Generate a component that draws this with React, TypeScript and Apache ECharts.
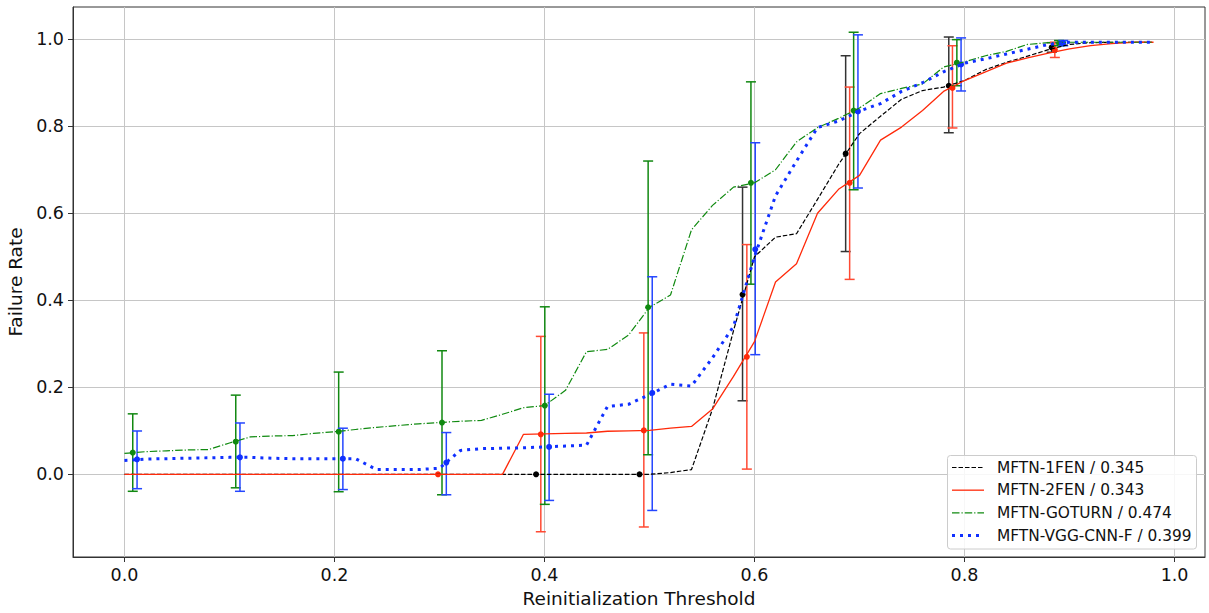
import React, { useEffect, useRef } from 'react';
import * as echarts from 'echarts';

// Thresholds at which the failure rate curves were sampled
const thresholds = [
  0.0, 0.02, 0.04, 0.06, 0.08, 0.1, 0.12, 0.14, 0.16, 0.18,
  0.2, 0.22, 0.24, 0.26, 0.28, 0.3, 0.32, 0.34, 0.36, 0.38,
  0.4, 0.42, 0.44, 0.46, 0.48, 0.5, 0.52, 0.54, 0.56, 0.58,
  0.6, 0.62, 0.64, 0.66, 0.68, 0.7, 0.72, 0.74, 0.76, 0.78,
  0.8, 0.82, 0.84, 0.86, 0.88, 0.9, 0.92, 0.94, 0.96, 0.98,
];

const seriesNames = [
  'MFTN-1FEN / 0.345',
  'MFTN-2FEN / 0.343',
  'MFTN-GOTURN / 0.474',
  'MFTN-VGG-CNN-F / 0.399',
];

// Curves
const rate1FEN = [
  0, 0, 0, 0, 0, 0, 0, 0, 0, 0,
  0, 0, 0, 0, 0, 0, 0, 0, 0, 0,
  0, 0, 0, 0, 0, 0, 0.004, 0.011, 0.15, 0.33,
  0.5, 0.545, 0.553, 0.632, 0.712, 0.783, 0.823, 0.862, 0.882, 0.89,
  0.905, 0.93, 0.947, 0.961, 0.976, 0.988, 0.992, 0.993, 0.993, 0.993,
];
const rate2FEN = [
  0, 0, 0, 0, 0, 0, 0, 0, 0, 0,
  0, 0, 0, 0, 0, 0, 0, 0, 0, 0.092,
  0.093, 0.094, 0.095, 0.099, 0.1, 0.101, 0.106, 0.11, 0.15, 0.225,
  0.305, 0.442, 0.484, 0.6, 0.655, 0.687, 0.768, 0.798, 0.836, 0.88,
  0.905, 0.925, 0.945, 0.957, 0.968, 0.978, 0.985, 0.99, 0.993, 0.993,
];
const rateGOTURN = [
  0.048, 0.052, 0.054, 0.056, 0.057, 0.072, 0.086, 0.088, 0.089, 0.094,
  0.098, 0.103, 0.108, 0.112, 0.116, 0.119, 0.122, 0.124, 0.138, 0.153,
  0.158, 0.193, 0.282, 0.287, 0.32, 0.384, 0.412, 0.562, 0.618, 0.66,
  0.67, 0.7, 0.764, 0.797, 0.818, 0.842, 0.875, 0.887, 0.897, 0.936,
  0.948, 0.962, 0.972, 0.988, 0.992, 0.993, 0.993, 0.993, 0.993, 0.993,
];
const rateVGG = [
  0.032, 0.035, 0.036, 0.037, 0.038, 0.039, 0.039, 0.037, 0.036, 0.036,
  0.036, 0.036, 0.011, 0.011, 0.011, 0.014, 0.055, 0.059, 0.06, 0.061,
  0.063, 0.065, 0.067, 0.156, 0.161, 0.183, 0.207, 0.203, 0.268, 0.34,
  0.5, 0.64, 0.72, 0.797, 0.812, 0.835, 0.852, 0.88, 0.9, 0.925,
  0.945, 0.955, 0.966, 0.977, 0.988, 0.993, 0.993, 0.993, 0.993, 0.993,
];

// Error bars: position, mean, lower, upper
const eb1FEN_x = [0.392, 0.4905, 0.5886, 0.6868, 0.785, 0.883];
const eb1FEN_y = [0, 0, 0.413, 0.737, 0.893, 0.981];
const eb1FEN_lo = [0, 0, 0.169, 0.512, 0.785, 0.97];
const eb1FEN_hi = [0, 0, 0.66, 0.962, 1.005, 0.992];

const eb2FEN_x = [0.2986, 0.3965, 0.4946, 0.5927, 0.6906, 0.7885, 0.886];
const eb2FEN_y = [0, 0.092, 0.101, 0.27, 0.67, 0.888, 0.976];
const eb2FEN_lo = [0, -0.132, -0.121, 0.012, 0.448, 0.796, 0.958];
const eb2FEN_hi = [0, 0.317, 0.325, 0.528, 0.89, 0.985, 0.993];

const ebGOT_x = [0.0079, 0.106, 0.204, 0.3024, 0.4003, 0.4987, 0.5966, 0.6944, 0.7927, 0.89];
const ebGOT_y = [0.05, 0.075, 0.098, 0.119, 0.158, 0.384, 0.67, 0.836, 0.946, 0.99];
const ebGOT_lo = [-0.039, -0.031, -0.04, -0.047, -0.069, 0.045, 0.437, 0.654, 0.893, 0.985];
const ebGOT_hi = [0.139, 0.182, 0.235, 0.284, 0.385, 0.72, 0.902, 1.016, 0.999, 0.997];

const ebVGG_x = [0.012, 0.11, 0.208, 0.3065, 0.4044, 0.5026, 0.6007, 0.6985, 0.7967, 0.894];
const ebVGG_y = [0.0345, 0.039, 0.036, 0.027, 0.063, 0.187, 0.517, 0.834, 0.942, 0.991];
const ebVGG_lo = [-0.033, -0.039, -0.035, -0.047, -0.06, -0.083, 0.275, 0.658, 0.881, 0.985];
const ebVGG_hi = [0.0996, 0.118, 0.106, 0.096, 0.184, 0.454, 0.762, 1.01, 1.003, 0.997];

const xTicks = [0.0, 0.2, 0.4, 0.6, 0.8, 1.0];
const yTicks = [0.0, 0.2, 0.4, 0.6, 0.8, 1.0];

const FONT = 'DejaVu Sans';

const styles = [
  { color: '#000000', barColor: '#333333', width: 1.2, dash: [4.5, 2] as number[] | string },
  { color: '#ff2a0a', barColor: '#ff4a33', width: 1.3, dash: 'solid' as number[] | string },
  { color: '#108a10', barColor: '#118811', width: 1.2, dash: [7.5, 2, 1.2, 2] as number[] | string },
  { color: '#1030ff', barColor: '#2446ff', width: 3, dash: [3, 5] as number[] | string },
];

const curves = [rate1FEN, rate2FEN, rateGOTURN, rateVGG];
const bars = [
  [eb1FEN_x, eb1FEN_y, eb1FEN_lo, eb1FEN_hi],
  [eb2FEN_x, eb2FEN_y, eb2FEN_lo, eb2FEN_hi],
  [ebGOT_x, ebGOT_y, ebGOT_lo, ebGOT_hi],
  [ebVGG_x, ebVGG_y, ebVGG_lo, ebVGG_hi],
];

function buildOption() {
  const series: any[] = [];
  curves.forEach((vals, k) => {
    const st = styles[k];
    series.push({
      type: 'line',
      name: seriesNames[k],
      data: thresholds.map((t, i) => [t, vals[i]]),
      symbol: 'none',
      showSymbol: false,
      silent: true,
      lineStyle: { color: st.color, width: st.width, type: st.dash, cap: 'butt' },
      itemStyle: { color: st.color },
    });
    const [bx, by, blo, bhi] = bars[k];
    series.push({
      type: 'custom',
      name: 'errorbar-' + k,
      silent: true,
      clip: false,
      encode: { x: 0, y: 1 },
      data: bx.map((x, i) => [x, by[i], blo[i], bhi[i]]),
      renderItem: (_params: any, api: any) => {
        const x = api.value(0);
        const y = api.value(1);
        const lo = api.value(2);
        const hi = api.value(3);
        const p = api.coord([x, y]);
        const pl = api.coord([x, lo]);
        const ph = api.coord([x, hi]);
        const cap = 5;
        const lineStyle = { stroke: st.barColor, lineWidth: 1.5 };
        const children: any[] = [];
        if (hi - lo > 0) {
          children.push({ type: 'line', shape: { x1: pl[0], y1: pl[1], x2: ph[0], y2: ph[1] }, style: lineStyle });
          children.push({ type: 'line', shape: { x1: pl[0] - cap, y1: pl[1], x2: pl[0] + cap, y2: pl[1] }, style: lineStyle });
          children.push({ type: 'line', shape: { x1: ph[0] - cap, y1: ph[1], x2: ph[0] + cap, y2: ph[1] }, style: lineStyle });
        }
        children.push({ type: 'circle', shape: { cx: p[0], cy: p[1], r: 3 }, style: { fill: st.color } });
        return { type: 'group', children };
      },
    });
  });

  // Legend drawn as graphic elements
  const legendX = 947.5;
  const legendY = 455.5;
  const rowH = 22.67;
  const graphic: any[] = [
    {
      type: 'rect',
      z: 100,
      shape: { x: legendX, y: legendY, width: 249, height: 93.5, r: 3 },
      style: { fill: 'rgba(255,255,255,0.85)', stroke: '#cccccc', lineWidth: 1 },
    },
  ];
  seriesNames.forEach((name, k) => {
    const st = styles[k];
    const cy = legendY + 12 + k * rowH;
    graphic.push({
      type: 'line',
      z: 101,
      shape: { x1: legendX + 4.5, y1: cy, x2: legendX + 36.5, y2: cy },
      style: {
        stroke: st.color,
        lineWidth: st.width,
        lineDash: Array.isArray(st.dash) ? st.dash : null,
      },
    });
    graphic.push({
      type: 'text',
      z: 101,
      style: {
        text: name,
        x: legendX + 49.5,
        y: cy,
        fontSize: 15.4,
        fontFamily: FONT,
        fill: '#111111',
        verticalAlign: 'middle',
        align: 'left',
      },
    });
  });

  const fmt = (v: number) => v.toFixed(1);

  return {
    animation: false,
    backgroundColor: '#ffffff',
    grid: {
      left: 73,
      top: 7,
      width: 1132,
      height: 550,
      show: true,
      borderColor: '#333333',
      borderWidth: 1,
      backgroundColor: 'transparent',
      containLabel: false,
      outerBoundsMode: 'none',
    },
    xAxis: {
      type: 'value',
      min: -0.049,
      max: 1.029,
      splitNumber: 5,
      name: 'Reinitialization Threshold',
      nameLocation: 'middle',
      nameGap: 30,
      nameTextStyle: { fontSize: 18.5, fontFamily: FONT, color: '#111111' },
      axisLine: { show: true, onZero: false, lineStyle: { color: '#333333', width: 1 } },
      axisTick: { show: true, length: 5, customValues: xTicks, lineStyle: { color: '#333333', width: 1 } },
      axisLabel: {
        customValues: xTicks,
        formatter: fmt,
        fontSize: 17.5,
        fontFamily: FONT,
        color: '#111111',
        margin: 9,
      },
      splitLine: { show: true, lineStyle: { color: '#c6c6c6', width: 1 } },
    },
    yAxis: {
      type: 'value',
      min: -0.19,
      max: 1.074,
      splitNumber: 6,
      name: 'Failure Rate',
      nameLocation: 'middle',
      nameGap: 43,
      nameRotate: 90,
      nameTextStyle: { fontSize: 18.5, fontFamily: FONT, color: '#111111' },
      axisLine: { show: true, onZero: false, lineStyle: { color: '#333333', width: 1 } },
      axisTick: { show: true, length: 5, customValues: yTicks, lineStyle: { color: '#333333', width: 1 } },
      axisLabel: {
        customValues: yTicks,
        formatter: fmt,
        fontSize: 17.5,
        fontFamily: FONT,
        color: '#111111',
        margin: 9,
      },
      splitLine: { show: true, lineStyle: { color: '#c6c6c6', width: 1 } },
    },
    series,
    graphic,
  };
}

export default function App() {
  const ref = useRef<HTMLDivElement>(null);
  useEffect(() => {
    if (!ref.current) return;
    const chart = echarts.init(ref.current, null, { renderer: 'svg' });
    chart.setOption(buildOption() as any);
    return () => {
      chart.dispose();
    };
  }, []);
  return (
    <div
      ref={ref}
      style={{ position: 'fixed', left: 0, top: 0, width: 1209, height: 613, background: '#fff' }}
    />
  );
}
